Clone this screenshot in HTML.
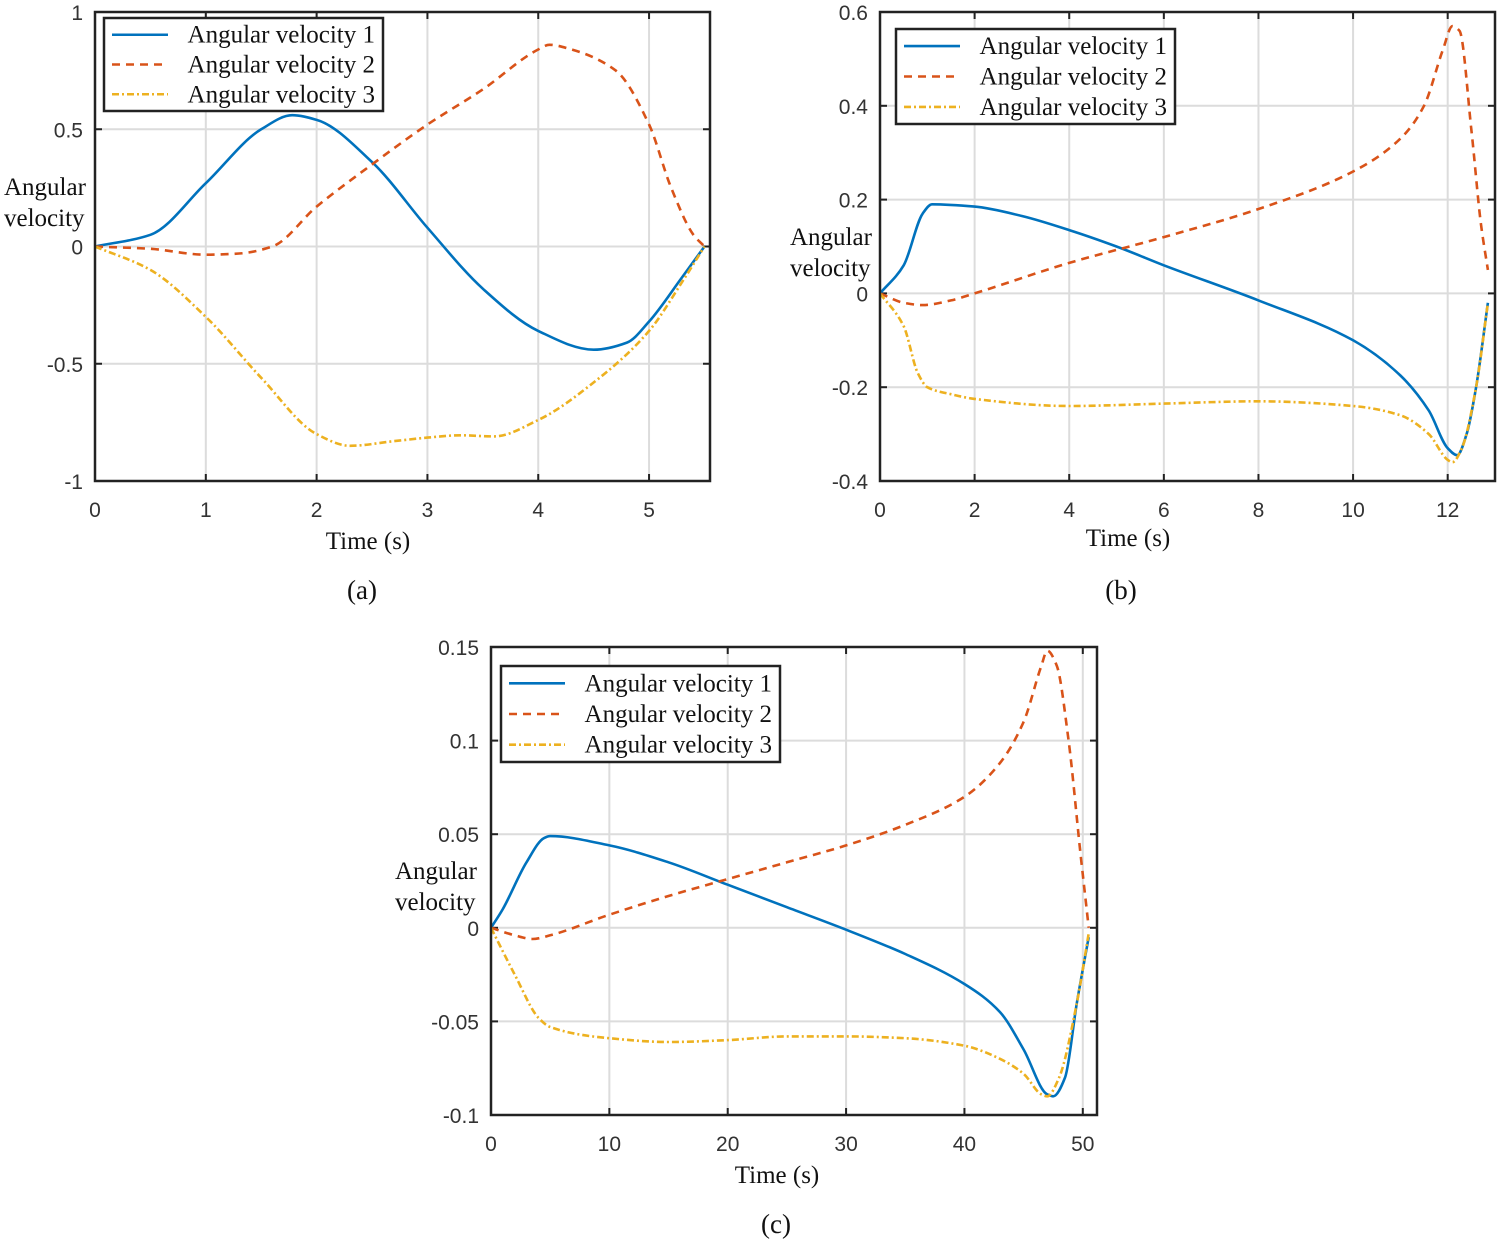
<!DOCTYPE html>
<html><head><meta charset="utf-8"><style>
body{margin:0;background:#fff;width:1500px;height:1244px;overflow:hidden}
svg text{font-family:"Liberation Sans",sans-serif}
.serif{font-family:"Liberation Serif",serif !important}
</style></head><body>
<svg id="svg" width="1500" height="1244" xmlns="http://www.w3.org/2000/svg"></svg>
<script>
// Chart (a)
const aT1=[0,0.5,1,1.5,1.78,2,2.5,3,3.5,4,4.5,4.8,5,5.3,5.5];
const aV1=[0,0.05,0.27,0.5,0.56,0.54,0.36,0.08,-0.18,-0.36,-0.44,-0.41,-0.32,-0.13,0];
const aT2=[0,0.5,1,1.3,1.6,2,2.5,3,3.5,4,4.1,4.3,4.7,5,5.2,5.4,5.5];
const aV2=[0,-0.01,-0.035,-0.03,0,0.17,0.35,0.52,0.67,0.84,0.86,0.84,0.75,0.52,0.25,0.05,0];
const aT3=[0,0.5,1,1.5,2,2.3,2.7,3,3.3,3.6,4,4.5,5,5.3,5.5];
const aV3=[0,-0.1,-0.3,-0.56,-0.8,-0.85,-0.83,-0.815,-0.805,-0.81,-0.74,-0.58,-0.36,-0.15,0];
const aXTicks=[0,1,2,3,4,5];
const aYTicks=[-1,-0.5,0,0.5,1];
// Chart (b)
const bT1=[0,0.5,0.9,1.1,2,3,4,5,6,8,10,11,11.6,12,12.2,12.4,12.6,12.85];
const bV1=[0,0.06,0.17,0.19,0.185,0.165,0.135,0.1,0.06,-0.015,-0.1,-0.175,-0.25,-0.33,-0.345,-0.3,-0.2,-0.02];
const bT2=[0,0.5,0.9,1.5,2,4,6,8,10,11,11.5,11.9,12.1,12.25,12.5,12.7,12.85];
const bV2=[0,-0.02,-0.025,-0.015,0,0.065,0.12,0.18,0.26,0.33,0.4,0.52,0.57,0.56,0.35,0.15,0.05];
const bT3=[0,0.5,0.8,1,1.5,2,4,6,8,10,11,11.6,12,12.1,12.3,12.6,12.85];
const bV3=[0,-0.07,-0.17,-0.2,-0.215,-0.225,-0.24,-0.235,-0.23,-0.24,-0.26,-0.3,-0.355,-0.36,-0.33,-0.2,-0.02];
const bXTicks=[0,2,4,6,8,10,12];
const bYTicks=[-0.4,-0.2,0,0.2,0.4,0.6];
// Chart (c)
const cT1=[0,1,3,4.5,5,10,15,20,25,30,35,40,43,45,47,47.5,48.5,49.5,50.5];
const cV1=[0,0.01,0.035,0.048,0.049,0.044,0.035,0.023,0.011,-0.001,-0.014,-0.03,-0.045,-0.065,-0.089,-0.09,-0.08,-0.04,-0.005];
const cT2=[0,2,3.5,5,10,15,20,25,30,35,40,43,45,46.5,47,47.8,48.8,49.8,50.5];
const cV2=[0,-0.004,-0.006,-0.004,0.007,0.017,0.026,0.035,0.044,0.055,0.07,0.088,0.11,0.14,0.148,0.14,0.1,0.04,0];
const cT3=[0,2,4,5,10,15,20,25,30,35,40,43,45,46.5,47,48,49.5,50.5];
const cV3=[0,-0.025,-0.048,-0.053,-0.059,-0.061,-0.06,-0.058,-0.058,-0.059,-0.063,-0.07,-0.078,-0.089,-0.09,-0.08,-0.04,-0.003];
const cXTicks=[0,10,20,30,40,50];
const cYTicks=[-0.1,-0.05,0,0.05,0.1,0.15];
const seriesNames=["Angular velocity 1","Angular velocity 2","Angular velocity 3"];

const svg=document.getElementById('svg');
const NS="http://www.w3.org/2000/svg";
function mk(tag,attrs,parent){const e=document.createElementNS(NS,tag);for(const k in attrs)e.setAttribute(k,attrs[k]);(parent||svg).appendChild(e);return e;}
// monotone cubic (Fritsch-Carlson) in pixel space
function smooth(p){const n=p.length;const d=[],m=[];
  for(let i=0;i<n-1;i++)d.push((p[i+1][1]-p[i][1])/(p[i+1][0]-p[i][0]));
  m[0]=d[0];m[n-1]=d[n-2];
  for(let i=1;i<n-1;i++){if(d[i-1]*d[i]<=0)m[i]=0;else{const h0=p[i][0]-p[i-1][0],h1=p[i+1][0]-p[i][0];const w1=2*h1+h0,w2=h1+2*h0;m[i]=(w1+w2)/(w1/d[i-1]+w2/d[i]);}}
  let s="M"+p[0][0].toFixed(1)+","+p[0][1].toFixed(1);
  for(let i=0;i<n-1;i++){const h=(p[i+1][0]-p[i][0])/3;
    s+=" C"+(p[i][0]+h).toFixed(1)+","+(p[i][1]+m[i]*h).toFixed(1)+" "+(p[i+1][0]-h).toFixed(1)+","+(p[i+1][1]-m[i+1]*h).toFixed(1)+" "+p[i+1][0].toFixed(1)+","+p[i+1][1].toFixed(1);}
  return s;}
const colors=["#0072bd","#d95319","#edb120"];
const dashes=["","8,6","7,3,2,3"];
function chart(id,box,xr,yr,xt,yt,series,leg,ylab,xlab,cap){
  const g=mk('g',{});
  
  
  const [L,T,R,B]=box;
  const sx=v=>L+(v-xr[0])/(xr[1]-xr[0])*(R-L);
  const sy=v=>B-(v-yr[0])/(yr[1]-yr[0])*(B-T);
  xt.forEach(v=>{const x=sx(v);
    const gl=mk('line',{x1:x,x2:x,y1:T,y2:B,stroke:'#dcdcdc','stroke-width':2},g);
    
    
    mk('line',{x1:x,x2:x,y1:B,y2:B-7,stroke:'#222','stroke-width':2},g);
    mk('line',{x1:x,x2:x,y1:T,y2:T+7,stroke:'#222','stroke-width':2},g);
    const t=mk('text',{x:x,y:B+36,'text-anchor':'middle','font-size':21,fill:'#333'},g);t.textContent=String(v);
    
    
  });
  yt.forEach(v=>{const y=sy(v);
    const gl=mk('line',{x1:L,x2:R,y1:y,y2:y,stroke:'#dcdcdc','stroke-width':2},g);
    
    
    mk('line',{x1:L,x2:L+7,y1:y,y2:y,stroke:'#222','stroke-width':2},g);
    mk('line',{x1:R,x2:R-7,y1:y,y2:y,stroke:'#222','stroke-width':2},g);
    const t=mk('text',{x:L-12,y:y+8,'text-anchor':'end','font-size':21,fill:'#333'},g);t.textContent=String(v);
    
    
  });
  series.forEach((s,i)=>{const pts=s[0].map((t,k)=>[sx(t),sy(s[1][k])]);
    const p=mk('path',{d:smooth(pts),fill:'none',stroke:colors[i],'stroke-width':2.6,'stroke-dasharray':dashes[i]},g);
    
    
  });
  const fr=mk('rect',{x:L,y:T,width:R-L,height:B-T,fill:'none',stroke:'#222','stroke-width':2.5},g);
  
  
  const [lx,ly,lw,lh]=leg;
  const lg=mk('g',{},g);
  
  
  mk('rect',{x:lx,y:ly,width:lw,height:lh,fill:'#fff',stroke:'#222','stroke-width':2.5},lg);
  seriesNames.forEach((n,i)=>{
    const y2=ly+lh*(0.18+0.32*i);
    mk('line',{x1:lx+8,x2:lx+64,y1:y2,y2:y2,stroke:colors[i],'stroke-width':2.6,'stroke-dasharray':dashes[i]},lg);
    const t=mk('text',{x:lx+lw-8,y:y2+8,'text-anchor':'end','font-size':25,fill:'#111',class:'serif'},lg);t.textContent=n;
    
    
  });
  const [yx,yy]=ylab;
  const t1=mk('text',{x:yx,y:yy,'font-size':25,fill:'#111',class:'serif'},g);t1.textContent="Angular";
  
  
  const t2=mk('text',{x:yx,y:yy+31,'font-size':25,fill:'#111',class:'serif'},g);t2.textContent="velocity";
  
  
  const xl=mk('text',{x:xlab[0],y:xlab[1],'text-anchor':'middle','font-size':25,fill:'#111',class:'serif'},g);xl.textContent="Time (s)";
  
  
  const c=mk('text',{x:cap[0],y:cap[1],'text-anchor':'middle','font-size':27,fill:'#111',class:'serif'},g);c.textContent="("+id+")";
  
  
}
chart('a',[95,12,710,481],[0,5.55],[-1,1],aXTicks,aYTicks,[[aT1,aV1],[aT2,aV2],[aT3,aV3]],[104,18,279,93],[4,195],[368,549],[362,599]);
chart('b',[880,12,1495,481],[0,13.0],[-0.4,0.6],bXTicks,bYTicks,[[bT1,bV1],[bT2,bV2],[bT3,bV3]],[896,29,279,95],[790,245],[1128,546],[1121,599]);
chart('c',[491,647,1097,1115],[0,51.2],[-0.1,0.15],cXTicks,cYTicks,[[cT1,cV1],[cT2,cV2],[cT3,cV3]],[501,666,279,96],[395,879],[777,1183],[776,1233]);
</script>
</body></html>
